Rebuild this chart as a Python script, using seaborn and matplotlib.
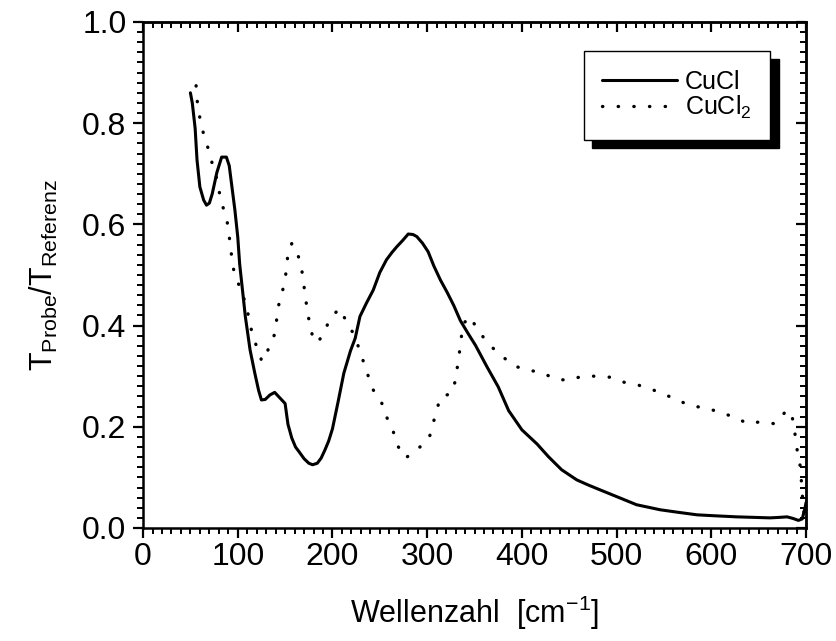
import numpy as np
import pandas as pd
import matplotlib
matplotlib.use('Agg')
import matplotlib.pyplot as plt
import seaborn as sns
from matplotlib.ticker import MultipleLocator, NullFormatter

# CuCl (solid line)
cucl_x = [50, 52, 55, 57, 60, 64, 67, 70, 73, 78, 83, 88, 91, 94, 97, 100, 102, 105,
          108, 113, 118, 122, 125, 129, 134, 139, 143, 150, 153, 157, 161, 165, 170,
          175, 179, 184, 188, 192, 196, 200, 206, 212, 219, 224, 229, 236, 243, 250,
          257, 263, 268, 274, 280, 285, 289, 295, 301, 307, 314, 321, 328, 335, 343,
          351, 363, 375, 386, 400, 416, 428, 442, 458, 470, 483, 504, 521, 546, 565,
          585, 605, 627, 645, 662, 672, 680, 686, 692, 696, 699, 700]
cucl_y = [0.860, 0.840, 0.790, 0.727, 0.674, 0.648, 0.638, 0.642, 0.660, 0.703, 0.733,
          0.733, 0.716, 0.672, 0.628, 0.575, 0.522, 0.470, 0.418, 0.352, 0.306, 0.272,
          0.253, 0.254, 0.263, 0.268, 0.260, 0.246, 0.205, 0.178, 0.160, 0.150, 0.137,
          0.128, 0.125, 0.128, 0.138, 0.154, 0.172, 0.196, 0.250, 0.306, 0.350, 0.375,
          0.418, 0.445, 0.470, 0.505, 0.530, 0.545, 0.556, 0.568, 0.581, 0.580, 0.576,
          0.563, 0.546, 0.518, 0.490, 0.466, 0.440, 0.410, 0.385, 0.361, 0.319, 0.279,
          0.232, 0.194, 0.166, 0.141, 0.115, 0.095, 0.085, 0.075, 0.059, 0.046, 0.036,
          0.031, 0.026, 0.024, 0.022, 0.021, 0.020, 0.021, 0.022, 0.019, 0.015, 0.018,
          0.040, 0.050]

# CuCl2 (dotted line)
cucl2_x = [56, 57, 59, 62, 66, 71, 74, 79, 81, 85, 89, 91, 93, 94, 98, 104, 109, 112,
           115, 120, 125, 128, 133, 139, 141, 143, 147, 150, 152, 153, 157, 160, 165,
           168, 170, 172, 174, 177, 180, 185, 190, 197, 207, 215, 223, 228, 233, 238,
           243, 252, 257, 264, 268, 277, 290, 302, 306, 310, 314, 326, 330, 332, 334,
           336, 337, 345, 354, 365, 378, 392, 407, 421, 436, 449, 464, 479, 493, 508,
           522, 537, 552, 566, 580, 595, 610, 623, 639, 652, 667, 677, 684, 687, 689,
           691, 694, 695, 696, 697, 699]
cucl2_y = [0.874, 0.847, 0.820, 0.792, 0.765, 0.738, 0.711, 0.684, 0.658, 0.630, 0.603,
           0.576, 0.548, 0.522, 0.495, 0.468, 0.439, 0.413, 0.386, 0.358, 0.332, 0.330,
           0.358, 0.383, 0.411, 0.439, 0.466, 0.492, 0.520, 0.547, 0.562, 0.559, 0.531,
           0.505, 0.477, 0.449, 0.422, 0.396, 0.369, 0.368, 0.383, 0.411, 0.434, 0.408,
           0.381, 0.355, 0.327, 0.299, 0.273, 0.247, 0.220, 0.192, 0.165, 0.138, 0.156,
           0.177, 0.205, 0.232, 0.259, 0.266, 0.293, 0.320, 0.346, 0.374, 0.401, 0.418,
           0.390, 0.363, 0.341, 0.320, 0.312, 0.307, 0.294, 0.292, 0.300, 0.300, 0.298,
           0.288, 0.283, 0.274, 0.263, 0.251, 0.241, 0.237, 0.228, 0.220, 0.206, 0.210,
           0.206, 0.227, 0.232, 0.204, 0.177, 0.149, 0.121, 0.095, 0.068, 0.042, 0.016]

sns.set_theme(style='ticks')
plt.rcParams['font.family'] = ['Liberation Sans', 'DejaVu Sans']
plt.rcParams['mathtext.default'] = 'regular'
for key in ['text.color', 'axes.labelcolor', 'xtick.color', 'ytick.color',
            'xtick.labelcolor', 'ytick.labelcolor']:
    plt.rcParams[key] = 'black'

fig = plt.figure(figsize=(8.37, 6.41), dpi=100)
ax = fig.add_axes([0.1709, 0.1763, 0.7921, 0.7894])

sns.lineplot(x=cucl_x, y=cucl_y, ax=ax, color='black', lw=2.2, label='CuCl')
sns.lineplot(x=cucl2_x, y=cucl2_y, ax=ax, color='black', lw=2.4,
             linestyle=(0, (0.1, 4.6)), dash_capstyle='round', label='CuCl$_2$')

ax.set_xlim(0, 700)
ax.set_ylim(0, 1.0)
ax.xaxis.set_major_locator(MultipleLocator(100))
ax.xaxis.set_minor_locator(MultipleLocator(10))
ax.yaxis.set_major_locator(MultipleLocator(0.2))
ax.yaxis.set_minor_locator(MultipleLocator(0.02))
ax.yaxis.set_major_formatter(lambda v, p: '{:.1f}'.format(v))

for s in ax.spines.values():
    s.set_linewidth(1.8)
    s.set_color('black')
ax.tick_params(which='major', direction='out', length=7, width=1.6, labelsize=23,
               color='black')
ax.tick_params(axis='x', which='major', pad=3)
ax.tick_params(axis='y', which='major', pad=5)
ax.tick_params(which='minor', direction='out', length=4, width=1.4, color='black')

# inward ticks on top and right, no labels
top = ax.secondary_xaxis('top')
top.xaxis.set_major_locator(MultipleLocator(100))
top.xaxis.set_minor_locator(MultipleLocator(10))
top.xaxis.set_major_formatter(NullFormatter())
right = ax.secondary_yaxis('right')
right.yaxis.set_major_locator(MultipleLocator(0.2))
right.yaxis.set_minor_locator(MultipleLocator(0.02))
right.yaxis.set_major_formatter(NullFormatter())
for sec in (top, right):
    sec.tick_params(which='major', direction='in', length=7, width=1.6, color='black')
    sec.tick_params(which='minor', direction='in', length=4, width=1.4, color='black')
    for s in sec.spines.values():
        s.set_linewidth(1.8)

ax.set_xlabel('Wellenzahl  [cm$^{-1}$]', fontsize=22, labelpad=16)
ax.set_ylabel('T$_{Probe}$/T$_{Referenz}$', fontsize=22, labelpad=16)

leg = ax.legend(loc='upper right', bbox_to_anchor=(0.946, 0.943), borderaxespad=0,
                frameon=True, fancybox=False, edgecolor='black', framealpha=1,
                shadow={'ox': 6, 'oy': -6, 'color': 'black', 'alpha': 1},
                fontsize=18, handlelength=3.0, handletextpad=0.3, borderpad=0.75,
                labelspacing=0.0)
leg.get_frame().set_linewidth(1.0)

fig.savefig('out.png', dpi=100)
